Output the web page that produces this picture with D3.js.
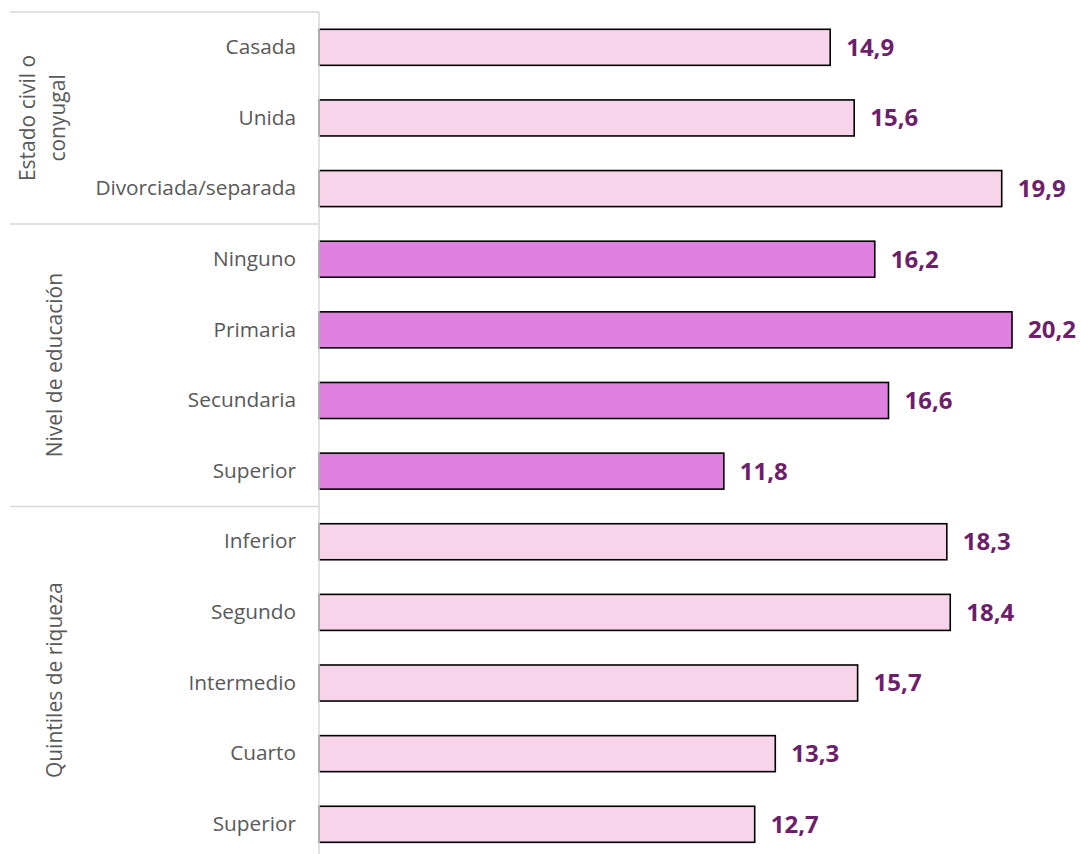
<!DOCTYPE html>
<html>
<head>
<meta charset="utf-8">
<script src="https://cdn.jsdelivr.net/npm/d3@7"></script>
<style>
  body { margin: 0; background: #fff; }
  svg { display: block; }
</style>
</head>
<body>
<div id="chart"></div>
<script>
const categories = ["Casada", "Unida", "Divorciada/separada",
                    "Ninguno", "Primaria", "Secundaria", "Superior",
                    "Inferior", "Segundo", "Intermedio", "Cuarto", "Superior "];
const values = [14.9, 15.6, 19.9, 16.2, 20.2, 16.6, 11.8, 18.3, 18.4, 15.7, 13.3, 12.7];
const groupOf = [0, 0, 0, 1, 1, 1, 1, 2, 2, 2, 2, 2];
const groupLabels = [["Estado civil o", "conyugal"], ["Nivel de educación"], ["Quintiles de riqueza"]];
const groupColors = ["#f7d4ea", "#df82df", "#f7d4ea"];

const sizes = {
    width: 1081,
    height: 854,
    top: 12,
    bottom: 859.6,
    axisX: 319,
    left: 10
};

const svg = d3.select("#chart")
              .append("svg")
              .attr("width", sizes.width)
              .attr("height", sizes.height);

const x = d3.scaleLinear()
            .domain([0, 20.2])
            .range([sizes.axisX, 1012]);

const y = d3.scaleBand()
            .domain(d3.range(categories.length))
            .range([sizes.top, sizes.bottom])
            .paddingInner(0.49)
            .paddingOuter(0.245);

const step = y.step();

// group separators
const groupStarts = [0, 3, 7];
const groupEnds = [3, 7, 12];
const sepY = i => sizes.top + groupStarts[i] * step;

svg.append("g")
   .selectAll("line")
   .data(groupStarts.map((d, i) => i))
   .join("line")
   .attr("x1", sizes.left)
   .attr("x2", sizes.axisX)
   .attr("y1", i => sepY(i))
   .attr("y2", i => sepY(i))
   .attr("stroke", "#d9d9d9")
   .attr("stroke-width", 1.5);

// bars
svg.append("g")
   .selectAll("rect")
   .data(values)
   .join("rect")
   .attr("x", x(0))
   .attr("y", (d, i) => y(i))
   .attr("width", d => x(d) - x(0))
   .attr("height", y.bandwidth())
   .attr("fill", (d, i) => groupColors[groupOf[i]])
   .attr("stroke", "#000")
   .attr("stroke-width", 1.6);

// vertical axis line
svg.append("line")
   .attr("x1", sizes.axisX)
   .attr("x2", sizes.axisX)
   .attr("y1", sizes.top)
   .attr("y2", sizes.height)
   .attr("stroke", "#d9d9d9")
   .attr("stroke-width", 1.5);

// category labels
const yAxis = d3.axisLeft(y)
                .tickSize(0)
                .tickPadding(23)
                .tickFormat(i => categories[i].trim());

const axisG = svg.append("g")
                 .attr("transform", `translate(${sizes.axisX},0)`)
                 .call(yAxis);
axisG.select(".domain").remove();
axisG.selectAll("text")
     .attr("font-family", "'Open Sans', sans-serif")
     .attr("font-size", 20.8)
     .attr("fill", "#595959");

// value labels
svg.append("g")
   .selectAll("text")
   .data(values)
   .join("text")
   .attr("x", d => x(d) + 16)
   .attr("y", (d, i) => y(i) + y.bandwidth() / 2)
   .attr("dy", "0.35em")
   .attr("font-family", "'Open Sans', sans-serif")
   .attr("font-weight", "bold")
   .attr("font-size", 24)
   .attr("fill", "#6e1f6c")
   .text(d => d3.format(".1f")(d).replace(".", ","));

// group labels, rotated
groupLabels.forEach((lines, i) => {
    const cy = (sepY(i) + Math.min(sizes.top + groupEnds[i] * step, sizes.height)) / 2;
    const lineH = 30;
    const cx = lines.length > 1 ? 28 : 55;
    const t = svg.append("text")
                 .attr("transform", `translate(${cx},${cy}) rotate(-90)`)
                 .attr("text-anchor", "middle")
                 .attr("font-family", "'Open Sans', sans-serif")
                 .attr("font-size", 21)
                 .attr("fill", "#595959");
    lines.forEach((l, j) => {
        t.append("tspan")
         .attr("x", 0)
         .attr("y", j * lineH)
         .attr("dy", "0.35em")
         .text(l);
    });
});
</script>
</body>
</html>
